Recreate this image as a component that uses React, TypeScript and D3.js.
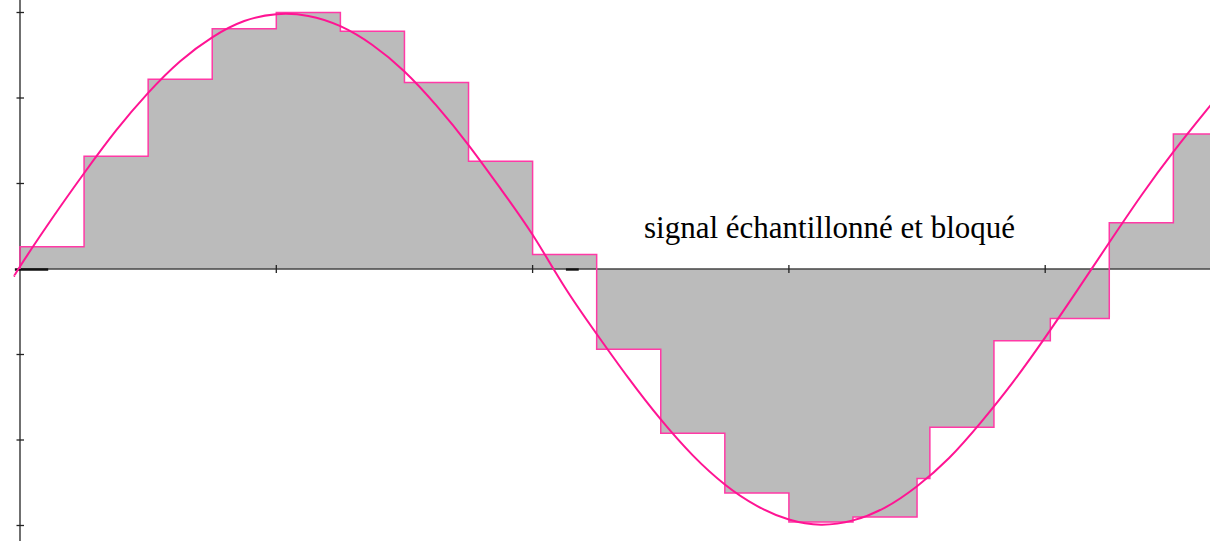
import * as d3 from "d3";
import { useEffect, useRef } from "react";

const width = 1210;
const height = 541;

// continuous signal (time units, amplitude units)
const curveTime = [
  -0.02, 0, 0.125, 0.25, 0.375, 0.5, 0.625, 0.75, 0.875, 1, 1.125, 1.25, 1.375,
  1.5, 1.625, 1.75, 1.875, 2, 2.125, 2.25, 2.375, 2.5, 2.625, 2.75, 2.875, 3,
  3.125, 3.25, 3.375, 3.5, 3.625, 3.75, 3.875, 4, 4.125, 4.25, 4.375, 4.5,
  4.625, 4.65,
];
const curveValue = [
  -0.08, 0.03, 0.59, 1.12, 1.62, 2.06, 2.43, 2.71, 2.9, 2.98, 2.96, 2.84, 2.62,
  2.31, 1.91, 1.45, 0.94, 0.4, -0.21, -0.76, -1.28, -1.76, -2.18, -2.52, -2.77,
  -2.93, -2.99, -2.94, -2.79, -2.54, -2.21, -1.79, -1.32, -0.8, -0.25, 0.31,
  0.86, 1.37, 1.84, 1.93,
];

// sample-and-hold steps: start time of each hold and the held value
const holdStart = [
  0, 0.25, 0.5, 0.75, 1, 1.25, 1.5, 1.75, 2, 2.25, 2.5, 2.75, 3, 3.25, 3.5,
  3.55, 3.8, 4.02, 4.25, 4.5,
];
const holdValue = [
  0.26, 1.32, 2.22, 2.81, 3.0, 2.78, 2.18, 1.26, 0.17, -0.94, -1.92, -2.62,
  -2.96, -2.9, -2.45, -1.85, -0.84, -0.58, 0.54, 1.58,
];
const tEnd = 4.65;

const xTicks = [1, 2, 3, 4];
const yTicks = [-3, -2, -1, 1, 2, 3];

// odd thick marks lying on the time axis
const axisMarks = [
  [-0.02, 0.11],
  [2.13, 2.18],
];

const label = "signal échantillonné et bloqué";

function drawChart(node: SVGSVGElement) {
  const svg = d3.select(node);
  svg.selectAll("*").remove();

  const x = d3.scaleLinear().domain([0, 4]).range([20, 1045.2]);
  const y = d3.scaleLinear().domain([-3, 3]).range([525.5, 12.5]);
  const x0 = x(0);
  const y0 = y(0);

  const holds = holdStart.map((t, i) => ({ t, v: holdValue[i] }));
  holds.push({ t: tEnd, v: holdValue[holdValue.length - 1] });

  // grey held area
  const area = d3
    .area<{ t: number; v: number }>()
    .x((d) => x(d.t))
    .y0(y0)
    .y1((d) => y(d.v))
    .curve(d3.curveStepAfter);

  svg
    .append("path")
    .datum(holds)
    .attr("d", area)
    .attr("fill", "#bbbbbb");

  // axes
  svg
    .append("line")
    .attr("x1", x0)
    .attr("x2", width)
    .attr("y1", y0)
    .attr("y2", y0)
    .attr("stroke", "#444")
    .attr("stroke-width", 1.4);

  svg
    .append("line")
    .attr("x1", x0)
    .attr("x2", x0)
    .attr("y1", 0)
    .attr("y2", height)
    .attr("stroke", "#333")
    .attr("stroke-width", 1.4);

  svg
    .selectAll(".xtick")
    .data(xTicks)
    .enter()
    .append("line")
    .attr("x1", (d) => x(d))
    .attr("x2", (d) => x(d))
    .attr("y1", y0 - 4)
    .attr("y2", y0 + 4)
    .attr("stroke", "#222")
    .attr("stroke-width", 1.3);

  svg
    .selectAll(".ytick")
    .data(yTicks)
    .enter()
    .append("line")
    .attr("x1", x0 - 3.5)
    .attr("x2", x0 + 4)
    .attr("y1", (d) => y(d))
    .attr("y2", (d) => y(d))
    .attr("stroke", "#222")
    .attr("stroke-width", 1.3);

  svg
    .selectAll(".axismark")
    .data(axisMarks)
    .enter()
    .append("line")
    .attr("x1", (d) => x(d[0]))
    .attr("x2", (d) => x(d[1]))
    .attr("y1", y0 + 0.5)
    .attr("y2", y0 + 0.5)
    .attr("stroke", "#111")
    .attr("stroke-width", 2.4);

  // step outline
  const step = d3
    .line<{ t: number; v: number }>()
    .x((d) => x(d.t))
    .y((d) => y(d.v))
    .curve(d3.curveStepAfter);

  svg
    .append("path")
    .datum([{ t: 0, v: 0 }, ...holds])
    .attr("d", step)
    .attr("fill", "none")
    .attr("stroke", "#ff3aa6")
    .attr("stroke-width", 1.5);

  // continuous signal
  const signal = curveTime.map((t, i) => ({ t, v: curveValue[i] }));
  const line = d3
    .line<{ t: number; v: number }>()
    .x((d) => x(d.t))
    .y((d) => y(d.v))
    .curve(d3.curveNatural);

  svg
    .append("path")
    .datum(signal)
    .attr("d", line)
    .attr("fill", "none")
    .attr("stroke", "#ff1493")
    .attr("stroke-width", 2);

  svg
    .append("text")
    .attr("x", 644)
    .attr("y", 238)
    .style("font-family", "'Liberation Serif', 'Times New Roman', serif")
    .style("font-size", "31px")
    .attr("fill", "#000")
    .text(label);
}

export default function App() {
  const ref = useRef<SVGSVGElement>(null);

  useEffect(() => {
    document.body.style.margin = "0";
    if (ref.current) drawChart(ref.current);
  }, []);

  return (
    <svg
      ref={ref}
      width={width}
      height={height}
      style={{ display: "block", background: "#fff" }}
    />
  );
}
